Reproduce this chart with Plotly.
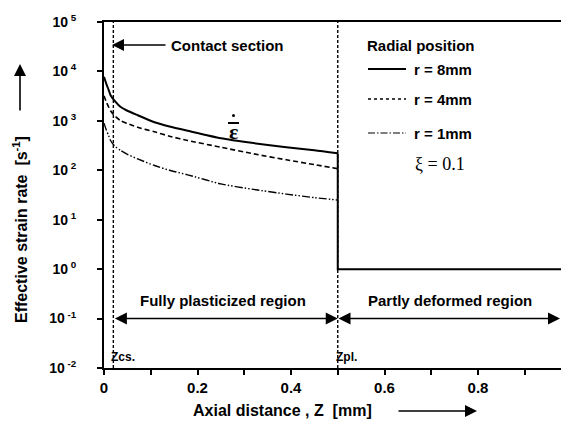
import plotly.graph_objects as go

# ---- data ----
z = [0.0, 0.005, 0.01, 0.014, 0.022, 0.036, 0.05, 0.072, 0.108, 0.14, 0.179, 0.25, 0.32, 0.39, 0.45, 0.5]
r8 = [7800, 5600, 4200, 3300, 2600, 1900, 1600, 1300, 940, 770, 630, 445, 355, 293, 255, 222]
r4 = [3200, 2400, 1900, 1600, 1290, 1000, 880, 740, 600, 490, 400, 293, 215, 163, 130, 108]
r1 = [900, 650, 500, 400, 316, 250, 210, 170, 125, 100, 81, 53, 41, 33, 28, 25]
z_partly = [0.5, 0.5, 1.0]
r8_partly = [222, 1, 1]
z_cs = 0.02
z_pl = 0.5
ytick_vals = [1e-2, 1e-1, 1e0, 1e1, 1e2, 1e3, 1e4, 1e5]
ytick_text = ["10<sup> -2</sup>", "10<sup> -1</sup>", "10<sup> 0</sup>", "10<sup> 1</sup>",
              "10<sup> 2</sup>", "10<sup> 3</sup>", "10<sup> 4</sup>", "10<sup> 5</sup>"]
xtick_vals = [0, 0.2, 0.4, 0.6, 0.8]
xtick_text = ["0", "0.2", "0.4", "0.6", "0.8"]

FONT = "Arial"
W, H = 561, 425
L, R, T, B = 104, 0, 22, 57
PW, PH = W - L - R, H - T - B


def px(x):
    return (x - L) / PW


def py(y):
    return (H - B - y) / PH


def arrow(hx, hy, tx, ty, width=1.6, size=1.5):
    return dict(xref="paper", yref="paper", x=px(hx), y=py(hy), ax=tx - hx, ay=ty - hy,
                axref="pixel", ayref="pixel", text="", showarrow=True, arrowhead=2,
                arrowsize=size, arrowwidth=width, arrowcolor="black")


fig = go.Figure()
fig.add_trace(go.Scatter(x=z, y=r8, mode="lines", line_shape="spline",
                         line=dict(color="black", width=2, smoothing=0.6), showlegend=False))
fig.add_trace(go.Scatter(x=z_partly, y=r8_partly, mode="lines",
                         line=dict(color="black", width=2), showlegend=False))
fig.add_trace(go.Scatter(x=z, y=r4, mode="lines", line_shape="spline",
                         line=dict(color="black", width=1.6, dash="5px,3px", smoothing=0.6),
                         showlegend=False))
fig.add_trace(go.Scatter(x=z, y=r1, mode="lines", line_shape="spline",
                         line=dict(color="black", width=1.4, dash="8px,2px,1.5px,2px,1.5px,2px",
                                   smoothing=0.6),
                         showlegend=False))

shapes = []
for zz in (z_cs, z_pl):
    shapes.append(dict(type="line", xref="x", yref="paper", x0=zz, x1=zz, y0=0, y1=1,
                       line=dict(color="black", width=1.4, dash="3px,2px")))
leg = [(69, dict(color="black", width=1.8)),
       (99, dict(color="black", width=1.3, dash="3px,3px")),
       (133, dict(color="black", width=1.2, dash="7px,2px,1.5px,2px"))]
for yy, ln in leg:
    shapes.append(dict(type="line", xref="paper", yref="paper", x0=px(368), x1=px(406),
                       y0=py(yy), y1=py(yy), line=ln))
shapes.append(dict(type="line", xref="paper", yref="paper", x0=px(228), x1=px(239),
                   y0=py(123), y1=py(123), line=dict(color="black", width=2)))
shapes.append(dict(type="circle", xref="paper", yref="paper", x0=px(232), x1=px(235),
                   y0=py(114), y1=py(117), fillcolor="black", line=dict(width=0)))

ann = []
tf = dict(family=FONT, size=15, color="black")
ann.append(dict(xref="paper", yref="paper", x=px(169), y=py(45), text="<b>Contact section</b>",
                showarrow=False, xanchor="left", yanchor="middle", font=tf))
ann.append(arrow(112, 45, 167, 45))
ann.append(dict(xref="paper", yref="paper", x=px(365), y=py(45), text="<b>Radial position</b>",
                showarrow=False, xanchor="left", yanchor="middle", font=tf))
for yy, t in [(69, "r = 8mm"), (99, "r = 4mm"), (133, "r = 1mm")]:
    ann.append(dict(xref="paper", yref="paper", x=px(412), y=py(yy), text="<b>" + t + "</b>",
                    showarrow=False, xanchor="left", yanchor="middle", font=tf))
ann.append(dict(xref="paper", yref="paper", x=px(413), y=py(164), text="ξ = 0.1",
                showarrow=False, xanchor="left", yanchor="middle",
                font=dict(family="Liberation Serif", size=18, color="black")))
ann.append(dict(xref="paper", yref="paper", x=px(233.5), y=py(131), text="<b>ε</b>",
                showarrow=False, xanchor="center", yanchor="middle",
                font=dict(family="Liberation Serif", size=22, color="black")))
# region arrows (double-headed)
ann.append(dict(xref="x", yref="y", x=z_pl, y=-1, ax=z_cs, ay=-1, axref="x", ayref="y",
                text="", showarrow=True, arrowhead=2, startarrowhead=2, arrowside="end+start",
                arrowsize=1.5, startarrowsize=1.5, arrowwidth=1.6, arrowcolor="black"))
ann.append(dict(xref="paper", yref="y", x=1.0, y=-1, ax=337 - W, ay=0, axref="pixel",
                ayref="pixel", text="", showarrow=True, arrowhead=2, startarrowhead=2,
                arrowside="end+start", arrowsize=1.5, startarrowsize=1.5, arrowwidth=1.6,
                arrowcolor="black"))
ann.append(dict(xref="paper", yref="paper", x=px(223), y=py(300),
                text="<b>Fully plasticized region</b>",
                showarrow=False, xanchor="center", yanchor="middle", font=tf))
ann.append(dict(xref="paper", yref="paper", x=px(450), y=py(300),
                text="<b>Partly deformed region</b>",
                showarrow=False, xanchor="center", yanchor="middle", font=tf))
ann.append(dict(xref="x", yref="paper", x=z_cs, y=py(357), text="<b>Zcs.</b>", showarrow=False,
                xanchor="left", yanchor="middle", xshift=-4,
                font=dict(family=FONT, size=12, color="black")))
ann.append(dict(xref="x", yref="paper", x=z_pl, y=py(357), text="<b>Zpl.</b>", showarrow=False,
                xanchor="left", yanchor="middle", xshift=-4,
                font=dict(family=FONT, size=12, color="black")))
ann.append(dict(xref="paper", yref="paper", x=px(282), y=py(411),
                text="<b>Axial distance , Z  [mm]</b>", showarrow=False, xanchor="center",
                yanchor="middle", font=dict(family=FONT, size=16, color="black")))
ann.append(arrow(477, 411, 397, 411, width=1.6))
ann.append(dict(xref="paper", yref="paper", x=px(20), y=py(230),
                text="<b>Effective strain rate  [s<sup>-1</sup>]</b>", textangle=-90,
                showarrow=False, xanchor="center", yanchor="middle",
                font=dict(family=FONT, size=16, color="black")))
ann.append(arrow(20, 64, 20, 112, width=1.6))

fig.update_layout(
    width=W, height=H, margin=dict(l=L, r=R, t=T, b=B),
    paper_bgcolor="white", plot_bgcolor="white",
    shapes=shapes, annotations=ann, showlegend=False,
    xaxis=dict(range=[0, PW / 467.5], showgrid=False, zeroline=False, showline=True,
               linecolor="black", linewidth=2, mirror=True, ticks="outside", ticklen=5,
               tickwidth=1.5, tickcolor="black", tickvals=xtick_vals,
               ticktext=["<b>" + t + "</b>" for t in xtick_text],
               tickfont=dict(family=FONT, size=15, color="black"),
               minor=dict(tickvals=[0.1, 0.3, 0.5, 0.7, 0.9], ticks="outside", ticklen=5,
                          tickwidth=1.5, tickcolor="black")),
    yaxis=dict(type="log", range=[-2, 5], showgrid=False, zeroline=False, showline=True,
               linecolor="black", linewidth=2, ticks="outside", ticklen=5, tickwidth=1.5,
               tickcolor="black", tickvals=ytick_vals,
               ticktext=["<b>" + t + "</b>" for t in ytick_text], ticklabelstandoff=18,
               tickfont=dict(family=FONT, size=14, color="black")),
)

fig.write_html("out.html")
